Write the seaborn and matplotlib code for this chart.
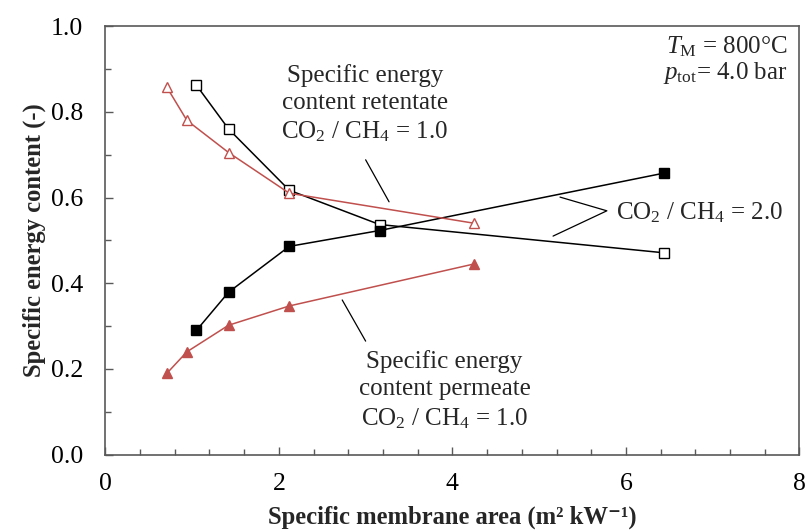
import matplotlib
matplotlib.use("Agg")
import matplotlib.pyplot as plt
import seaborn as sns
import pandas as pd
from matplotlib.ticker import MultipleLocator, FormatStrFormatter

# Data
x_ret2 = [1.05, 1.42, 2.12, 3.16, 6.44]
y_ret2 = [0.862, 0.760, 0.617, 0.537, 0.471]
x_per2 = [1.05, 1.42, 2.12, 3.16, 6.44]
y_per2 = [0.290, 0.379, 0.486, 0.523, 0.657]
x_ret1 = [0.71, 0.94, 1.42, 2.12, 4.25]
y_ret1 = [0.857, 0.780, 0.705, 0.610, 0.540]
x_per1 = [0.71, 0.94, 1.42, 2.12, 4.25]
y_per1 = [0.190, 0.240, 0.302, 0.347, 0.445]

sns.set_style("ticks")
plt.rcParams['font.family'] = ['Liberation Serif', 'DejaVu Serif']
plt.rcParams['mathtext.fontset'] = 'custom'
plt.rcParams['mathtext.rm'] = 'Liberation Serif'
plt.rcParams['mathtext.it'] = 'Liberation Serif:italic'
plt.rcParams['mathtext.bf'] = 'Liberation Serif:bold'

RED = '#C0504D'
GREY = '#595959'

fig = plt.figure(figsize=(8.07, 5.32), dpi=100)
ax = fig.add_axes([0.1305, 0.1453, 0.8602, 0.8057])

series = [
    (x_ret2, y_ret2, 'black', 's', 'white', 7.3),
    (x_per2, y_per2, 'black', 's', 'black', 7.3),
    (x_ret1, y_ret1, RED, '^', 'white', 7.5),
    (x_per1, y_per1, RED, '^', RED, 7.5),
]
for xs, ys, c, m, fc, ms in series:
    df = pd.DataFrame({'x': xs, 'y': ys})
    sns.lineplot(data=df, x='x', y='y', ax=ax, color=c, marker=m,
                 markerfacecolor=fc, markeredgecolor=c, markersize=ms,
                 markeredgewidth=1.0, linewidth=1.1, sort=False)

ax.set_xlim(0, 8)
ax.set_ylim(0, 1.0)
ax.xaxis.set_major_locator(MultipleLocator(2))
ax.xaxis.set_minor_locator(MultipleLocator(0.4))
ax.yaxis.set_major_locator(MultipleLocator(0.2))
ax.yaxis.set_minor_locator(MultipleLocator(0.1))
ax.yaxis.set_major_formatter(FormatStrFormatter('%.1f'))
ax.xaxis.set_major_formatter(FormatStrFormatter('%d'))
ax.tick_params(which='both', direction='in', colors=GREY, labelcolor='black',
               labelsize=18.5, width=1.0)
ax.tick_params(which='major', length=6)
ax.tick_params(which='minor', length=4)
ax.tick_params(axis='x', which='major', pad=13)
ax.tick_params(axis='y', which='major', pad=16)
for s in ax.spines.values():
    s.set_visible(True)
    s.set_color(GREY)
    s.set_linewidth(1.2)

ax.set_xlabel('Specific membrane area (m² kW⁻¹)', fontsize=17.7, fontweight='bold',
              labelpad=8)
ax.set_ylabel('Specific energy content (-)', fontsize=17.7, fontweight='bold',
              labelpad=3.5)

fs = 18
ls = 1.3
ax.text(2.99, 0.818, 'Specific energy\ncontent retentate\nCO$_2$ / CH$_4$ = 1.0',
        ha='center', va='center', fontsize=fs, linespacing=ls)
ax.plot([3.0, 3.27], [0.688, 0.59], color='black', linewidth=0.9)

ax.text(3.91, 0.150, 'Specific energy\ncontent permeate\nCO$_2$ / CH$_4$ = 1.0',
        ha='center', va='center', fontsize=fs, linespacing=ls)
ax.plot([2.73, 3.0], [0.361, 0.265], color='black', linewidth=0.9)

ax.plot([5.24, 5.78, 5.16], [0.601, 0.569, 0.51], color='black', linewidth=0.9)
ax.text(5.88, 0.564, 'CO$_2$ / CH$_4$ = 2.0', ha='left', va='center', fontsize=fs)

ax.text(7.865, 0.951, '$T_\\mathrm{M}$ = 800°C', ha='right', va='center', fontsize=fs)
ax.text(7.865, 0.891, '$p_\\mathrm{tot}$= 4.0 bar', ha='right', va='center', fontsize=fs)

fig.savefig('out.png', dpi=100)
